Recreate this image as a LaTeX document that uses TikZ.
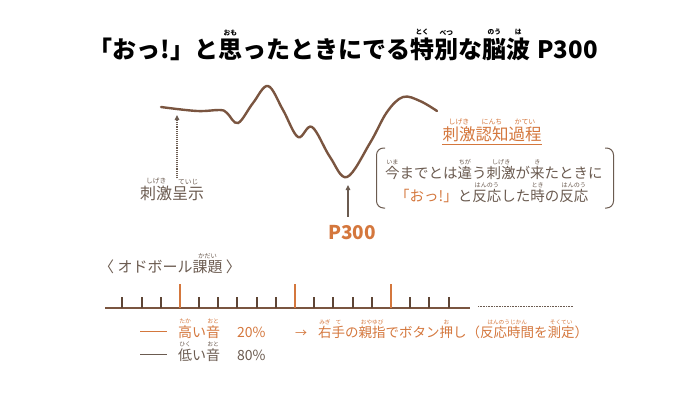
\documentclass[tikz,border=0pt]{standalone}
\usepackage{fontspec}
\setmainfont{Noto Sans CJK JP}
\usetikzlibrary{arrows.meta, positioning}

\definecolor{wavebrown}{HTML}{7A5540}
\definecolor{tickbrown}{HTML}{5E4535}
\definecolor{ochre}{HTML}{D4773D}
\definecolor{txtgray}{HTML}{6B5B50}

% ruby over kanji
\newlength\rbw
\newlength\rbh
\newcommand\rb[3][0.42]{\leavevmode\setbox0\hbox{#2}\rbw=\wd0 \rbh=\ht0
  \rlap{\hbox to\rbw{\hss\raisebox{\dimexpr\rbh+0.12em\relax}{\scalebox{#1}{#3}}\hss}}\box0\relax}

\begin{document}
\begin{tikzpicture}[
    x=1pt, y=-1pt,
    lbl/.style={inner sep=0pt, text=txtgray, font=\fontsize{15}{15}\selectfont},
    hot/.style={lbl, text=ochre},
    wave/.style={draw=wavebrown, line width=2.4pt, line cap=round},
    ptr/.style={-{Triangle[length=5pt,width=4.5pt]}, line width=1.1pt, txtgray},
    tick/.style={tickbrown, line width=1.6pt},
    brk/.style={txtgray, line width=1pt, rounded corners=7pt}
]
\useasboundingbox (0,0) rectangle (700,408);

% title
\node[inner sep=0pt, anchor=base east, font=\fontsize{24}{24}\selectfont\bfseries] (title) at (598,58)
  {「おっ!」と\rb[0.28]{思}{おも}ったときにでる\rb[0.28]{特}{とく}\rb[0.28]{別}{べつ}な\rb[0.28]{脳}{のう}\rb[0.28]{波}{は}\hspace{0.3em}P300};

% brain wave
\draw[wave] plot[smooth, tension=0.6] coordinates {(161,107) (197,111) (220,110) (227,113) (238,123)
  (253,103) (268,86) (283,110) (298,137) (312,127) (330,157) (347,177) (370,143) (387,112) (403,97)
  (420,101) (437,111)};
\coordinate (onset) at (177,115);
\coordinate (trough) at (348,185);

% stimulus
\node[lbl, font=\fontsize{16}{16}\selectfont, anchor=base west] (stim) at (140,199)
  {\rb{刺激}{しげき}\rb{呈示}{ていじ}};
\draw[ptr, densely dotted] (stim.north -| onset) -- (onset);

% P300
\node[inner sep=0pt, text=ochre, font=\fontsize{19}{19}\selectfont\bfseries] (p300) at (352,233) {P300};
\draw[ptr] ([yshift=9pt]p300.north -| trough) -- (trough);

% cognitive process
\node[hot, font=\fontsize{16.5}{16.5}\selectfont, anchor=base] (cog) at (492,140)
  {\rb{刺激}{しげき}\rb{認知}{にんち}\rb{過程}{かてい}};
\draw[ochre, line width=0.9pt] ([yshift=-4pt]cog.base west) -- ([yshift=-4pt]cog.base east);

\node[lbl, font=\fontsize{14.5}{14.5}\selectfont, anchor=base west] (expl1) at (385,178)
  {\rb{今}{いま}までとは\rb{違}{ちが}う\rb{刺激}{しげき}が\rb{来}{き}たときに};
\node[lbl, font=\fontsize{14.5}{14.5}\selectfont, anchor=base west] (expl2) at (395,201)
  {{\color{ochre}「おっ!」}と\rb{反応}{はんのう}した\rb{時}{とき}の\rb{反応}{はんのう}};
\draw[brk] (385,148) -- (376.5,148) -- (376.5,208) -- (385,208);
\draw[brk] (605,148) -- (613.5,148) -- (613.5,208) -- (605,208);

% oddball task
\node[lbl, anchor=base west] (odd) at (99,272) {〈 オドボール\rb{課題}{かだい} 〉};

\draw[wavebrown, line width=1.5pt] (105,308) -- (470,308);
\foreach \i in {0,1,2,4,5,6,7,8,10,11,12,13,15,16,17}
  \draw[tick] ({round(122.3+19.2*\i)},308) -- ++(0,-11.5);
\foreach \i in {3,9,14}
  \draw[tick, ochre] ({round(122.3+19.2*\i)},308) -- ++(0,-24);
\draw[txtgray, line width=1pt, dash pattern=on 0.8pt off 0.8pt] (478,306.5) -- (573,306.5);

% legend
\coordinate (hiA) at (140,331);
\coordinate (hiB) at (167,331);
\coordinate (loA) at (140,354);
\coordinate (loB) at (167,354);
\draw[ochre, line width=1pt] (hiA) -- (hiB);
\draw[txtgray, line width=1pt] (loA) -- (loB);
\node[hot, font=\fontsize{14}{14}\selectfont, anchor=base west] (hitone) at (178,337) {\rb{高}{たか}い\rb{音}{おと}};
\node[hot, font=\fontsize{14}{14}\selectfont, anchor=base west] (hipct) at (237,337) {20\%};
\node[hot, font=\fontsize{12}{12}\selectfont, anchor=base west] (hiarr) at (295,337) {→};
\node[hot, font=\fontsize{13.5}{13.5}\selectfont, anchor=base west] (press) at (318,337)
  {\rb{右}{みぎ}\rb{手}{て}の\rb{親指}{おやゆび}でボタン\rb{押}{お}し（\rb{反応時間}{はんのうじかん}を\rb{測定}{そくてい}）};
\node[lbl, font=\fontsize{14}{14}\selectfont, anchor=base west] (lotone) at (178,360) {\rb{低}{ひく}い\rb{音}{おと}};
\node[lbl, font=\fontsize{14}{14}\selectfont, anchor=base west] (lopct) at (237,360) {80\%};
\end{tikzpicture}
\end{document}
